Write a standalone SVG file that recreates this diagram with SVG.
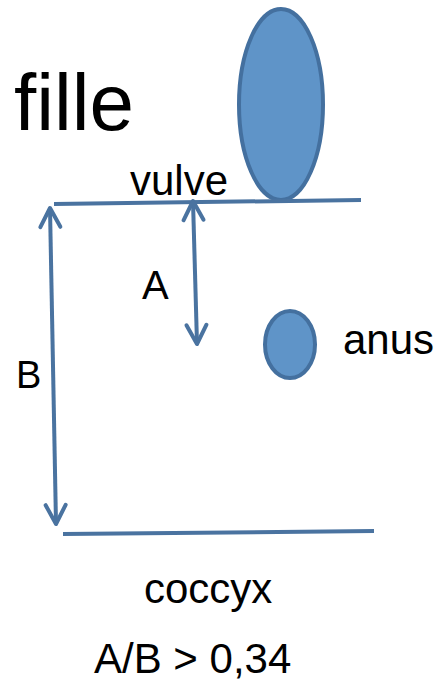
<svg xmlns="http://www.w3.org/2000/svg" width="437" height="681" viewBox="0 0 437 681">
<style>
.t{font-family:"Liberation Sans",Arial,sans-serif;fill:#000}
.shape{fill:#5f94c8;stroke:#44709f;stroke-width:4}
.ln{stroke:#4a73a0;stroke-width:4;fill:none}
</style>
<defs>
<marker id="ah" markerUnits="userSpaceOnUse" viewBox="-22 -12 24 24" refX="0" refY="0" markerWidth="24" markerHeight="24" orient="auto-start-reverse" overflow="visible">
<path d="M-19,-10 L0,0 L-19,10" fill="none" stroke="#4a73a0" stroke-width="4" stroke-linecap="round" stroke-linejoin="round"/>
</marker>
</defs>
<rect width="437" height="681" fill="#fff"/>
<g id="title"><text class="t" x="14" y="130" font-size="80">fille</text></g>
<g id="vulve-shape"><ellipse class="shape" cx="281" cy="104.5" rx="42" ry="95.5"/></g>
<g id="anus-shape"><ellipse class="shape" cx="290" cy="344.5" rx="25" ry="33.5"/></g>
<g id="connectors">
<line class="ln" x1="54" y1="204" x2="361" y2="200"/>
<line class="ln" x1="63" y1="534" x2="374" y2="531"/>
<line class="ln" x1="193" y1="201" x2="197" y2="344" marker-start="url(#ah)" marker-end="url(#ah)"/>
<line class="ln" x1="50" y1="208" x2="56" y2="524" marker-start="url(#ah)" marker-end="url(#ah)"/>
</g>
<g id="labels">
<text class="t" x="130" y="195" font-size="42">vulve</text>
<text class="t" x="142" y="299" font-size="40">A</text>
<text class="t" x="16" y="388" font-size="38">B</text>
<text class="t" x="343" y="354" font-size="42">anus</text>
<text class="t" x="144" y="603" font-size="42">coccyx</text>
<text class="t" x="94" y="673" font-size="42">A/B &gt; 0,34</text>
</g>
</svg>
